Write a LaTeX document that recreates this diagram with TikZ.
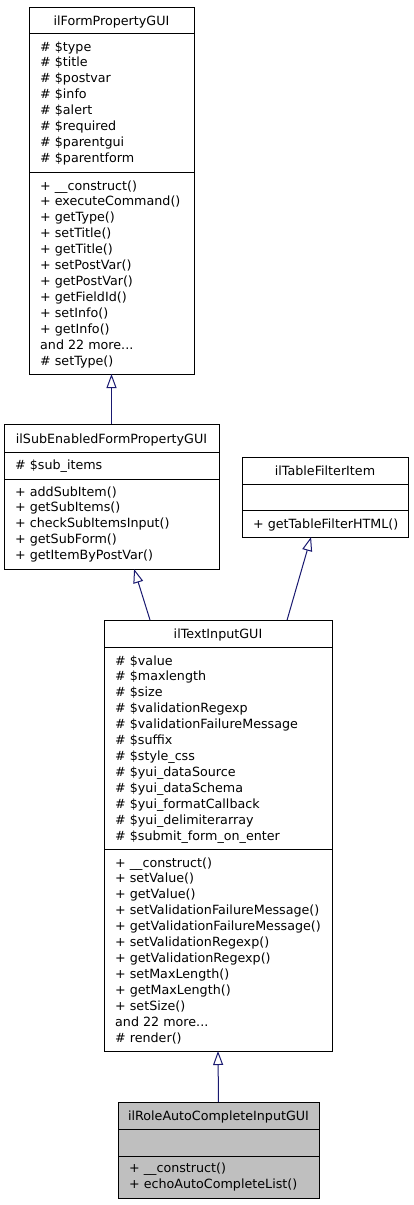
\documentclass[tikz,border=0pt]{standalone}
\usepackage{fontspec}
\setmainfont{DejaVu Sans}
\usetikzlibrary{arrows.meta,calc}
\definecolor{edge}{HTML}{191970}
\definecolor{leaf}{HTML}{BFBFBF}
\newcommand\moredots{...}
\begin{document}
\begin{tikzpicture}[x=1pt,y=-1pt,
  part/.style={draw=black,line width=1pt,anchor=north west,inner sep=0pt,outer sep=0pt},
  txt/.style={anchor=base west,inner sep=0pt,font=\fontsize{12.7}{15}\selectfont},
  ttl/.style={anchor=base,inner sep=0pt,font=\fontsize{12.7}{15}\selectfont},
  inherit/.style={draw=edge,line width=1pt,-{Triangle[open,length=14pt,width=10pt,fill=white]}}]
\useasboundingbox[fill=white] (0,0) rectangle (413,1205);

% ilFormPropertyGUI
\node[part,minimum width=165pt,minimum height=26pt] (Ahead) at (29,7) {};
\node[part,minimum width=165pt,minimum height=139pt] (Aattr) at (29,33) {};
\node[part,minimum width=165pt,minimum height=202pt] (Aops) at (29,172) {};
\node[ttl] (Atitle) at (111.5,25) {ilFormPropertyGUI};
\foreach \t [count=\i from 0] in {\# \$type,\# \$title,\# \$postvar,\# \$info,\# \$alert,\# \$required,\# \$parentgui,\# \$parentform}
  \node[txt] (Aa\i) at (40,51+\i*15.95) {\t};
\foreach \t [count=\i from 0] in {+ \_\_construct(),+ executeCommand(),+ getType(),+ setTitle(),+ getTitle(),+ setPostVar(),+ getPostVar(),+ getFieldId(),+ setInfo(),+ getInfo(),and 22 more\moredots,\# setType()}
  \node[txt] (Ao\i) at (40,190+\i*15.95) {\t};

% ilSubEnabledFormPropertyGUI
\node[part,minimum width=215pt,minimum height=28pt] (Bhead) at (4,424) {};
\node[part,minimum width=215pt,minimum height=27pt] (Battr) at (4,452) {};
\node[part,minimum width=215pt,minimum height=90pt] (Bops) at (4,479) {};
\node[ttl] (Btitle) at (111.5,443) {ilSubEnabledFormPropertyGUI};
\node[txt] (Ba0) at (15,469) {\# \$sub\_items};
\foreach \t [count=\i from 0] in {+ addSubItem(),+ getSubItems(),+ checkSubItemsInput(),+ getSubForm(),+ getItemByPostVar()}
  \node[txt] (Bo\i) at (15,496+\i*15.95) {\t};

% ilTableFilterItem
\node[part,minimum width=166pt,minimum height=27pt] (Chead) at (242,457) {};
\node[part,minimum width=166pt,minimum height=26pt] (Cattr) at (242,484) {};
\node[part,minimum width=166pt,minimum height=27pt] (Cops) at (242,510) {};
\node[ttl] (Ctitle) at (325,475.5) {ilTableFilterItem};
\node[txt] (Co0) at (253,528) {+ getTableFilterHTML()};

% ilTextInputGUI
\node[part,minimum width=228pt,minimum height=27pt] (Dhead) at (104,620) {};
\node[part,minimum width=228pt,minimum height=202pt] (Dattr) at (104,647) {};
\node[part,minimum width=228pt,minimum height=202pt] (Dops) at (104,849) {};
\node[ttl] (Dtitle) at (218,638) {ilTextInputGUI};
\foreach \t [count=\i from 0] in {\# \$value,\# \$maxlength,\# \$size,\# \$validationRegexp,\# \$validationFailureMessage,\# \$suffix,\# \$style\_css,\# \$yui\_dataSource,\# \$yui\_dataSchema,\# \$yui\_formatCallback,\# \$yui\_delimiterarray,\# \$submit\_form\_on\_enter}
  \node[txt] (Da\i) at (115,665+\i*15.95) {\t};
\foreach \t [count=\i from 0] in {+ \_\_construct(),+ setValue(),+ getValue(),+ setValidationFailureMessage(),+ getValidationFailureMessage(),+ setValidationRegexp(),+ getValidationRegexp(),+ setMaxLength(),+ getMaxLength(),+ setSize(),and 22 more\moredots,\# render()}
  \node[txt] (Do\i) at (115,867+\i*15.95) {\t};

% ilRoleAutoCompleteInputGUI
\node[part,fill=leaf,minimum width=201pt,minimum height=27pt] (Ehead) at (118,1102) {};
\node[part,fill=leaf,minimum width=201pt,minimum height=27pt] (Eattr) at (118,1129) {};
\node[part,fill=leaf,minimum width=201pt,minimum height=42pt] (Eops) at (118,1156) {};
\node[ttl] (Etitle) at (218.5,1120) {ilRoleAutoCompleteInputGUI};
\node[txt] (Eo0) at (129,1172) {+ \_\_construct()};
\node[txt] (Eo1) at (129,1188) {+ echoAutoCompleteList()};

% inheritance
\draw[inherit] (Bhead.north) -- (Aops.south);
\draw[inherit] ($(Dhead.north west)!0.2018!(Dhead.north east)$) -- ($(Bops.south west)!0.605!(Bops.south east)$);
\draw[inherit] ($(Dhead.north west)!0.803!(Dhead.north east)$) -- ($(Cops.south west)!0.416!(Cops.south east)$);
\draw[inherit] (Ehead.north) -- (Dops.south);
\end{tikzpicture}
\end{document}
